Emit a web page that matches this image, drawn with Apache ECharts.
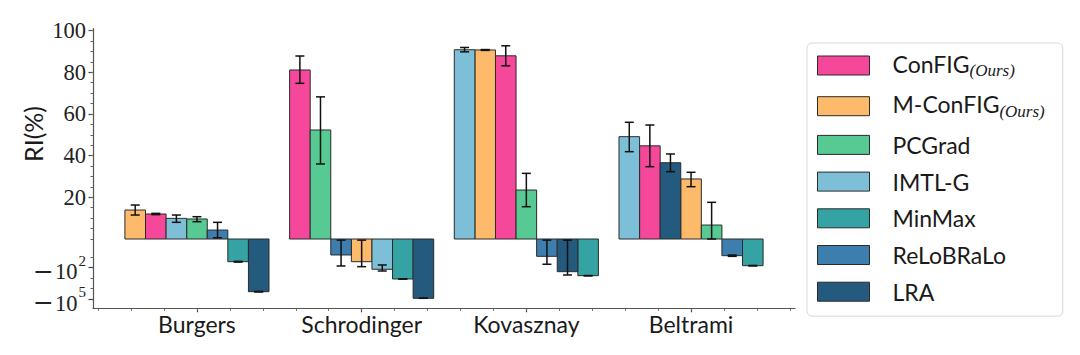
<!DOCTYPE html>
<html>
<head>
<meta charset="utf-8">
<script src="https://cdn.jsdelivr.net/npm/echarts@6/dist/echarts.min.js"></script>
<style>
  html, body { margin: 0; padding: 0; background: #ffffff; }
  #chart { width: 1080px; height: 355px; }
</style>
</head>
<body>
<div id="chart"></div>
<script>
// ---------------- data ----------------
const categories = ['Burgers', 'Schrodinger', 'Kovasznay', 'Beltrami'];
const methods = ['ConFIG', 'M-ConFIG', 'PCGrad', 'IMTL-G', 'MinMax', 'ReLoBRaLo', 'LRA'];

// RI(%) per method, order = categories
const configValues    = [12.0, 81.1, 87.9, 44.7];
const mconfigValues   = [13.9, -26.6, 90.7, 28.8];
const pcgradValues    = [9.6, 52.3, 23.5, 6.7];
const imtlgValues     = [9.9, -143, 90.8, 49.1];
const minmaxValues    = [-26.6, -1222, -589, -64.4];
const relobraloValues = [4.3, -5.9, -8.0, -6.9];
const lraValues       = [-20200, -86900, -243, 36.6];

// error bar lower / upper bounds
const configLow     = [11.7, 74.7, 83.1, 34.7];
const configHigh    = [12.3, 87.8, 92.7, 54.7];
const mconfigLow    = [11.5, -80, 90.5, 25.1];
const mconfigHigh   = [16.3, -0.05, 90.9, 32.0];
const pcgradLow     = [8.3, 36.0, 15.5, 0.0];
const pcgradHigh    = [10.7, 68.2, 31.5, 17.6];
const imtlgLow      = [8.0, -209, 89.8, 41.9];
const imtlgHigh     = [11.5, -55, 91.9, 56.0];
const minmaxLow     = [-29, -1222, -610, -68];
const minmaxHigh    = [-24.5, -1222, -570, -61];
const relobraloLow  = [0.6, -69, -47, -8.0];
const relobraloHigh = [8.0, -0.05, -0.05, -6.0];
const lraLow        = [-21500, -86900, -505, 32.3];
const lraHigh       = [-19000, -86900, -0.05, 40.8];

// tick labels
const yPosTicks = [20, 40, 60, 80, 100];
const yNegTicks = [-100, -100000];
const yNegTickLabels = ['{n|\u2212}{m|10}{e|2}', '{n|\u2212}{m|10}{e|5}'];
const yMinorNeg = [-10, -1000, -10000];

// ---------------- styling ----------------
const colors = {
  'ConFIG': '#F6489B',
  'M-ConFIG': '#FDBA6B',
  'PCGrad': '#56CA92',
  'IMTL-G': '#7DBFD7',
  'MinMax': '#35A3A4',
  'ReLoBRaLo': '#3E7EAE',
  'LRA': '#245A7D'
};

const valueSets = [configValues, mconfigValues, pcgradValues, imtlgValues, minmaxValues, relobraloValues, lraValues];
const lowSets   = [configLow, mconfigLow, pcgradLow, imtlgLow, minmaxLow, relobraloLow, lraLow];
const highSets  = [configHigh, mconfigHigh, pcgradHigh, imtlgHigh, minmaxHigh, relobraloHigh, lraHigh];

// axis transform: linear for positive, logarithmic for negative
function tf(v) {
  return v >= 0 ? v : -5 * Math.log10(1 + 5.62 * (-v));
}

const BW = 0.125;
// rank within each group (descending value)
const ranks = methods.map(() => []);
categories.forEach((c, g) => {
  const order = methods.map((m, i) => i).sort((a, b) => valueSets[b][g] - valueSets[a][g]);
  order.forEach((mi, r) => { ranks[mi][g] = r; });
});

function renderItem(params, api) {
  const x = api.value(0), y = api.value(1), l = api.value(2), h = api.value(3);
  const pA = api.coord([x - BW / 2, 0]);
  const pB = api.coord([x + BW / 2, y]);
  const top = Math.min(pA[1], pB[1]);
  const children = [{
    type: 'rect',
    shape: { x: pA[0], y: top, width: pB[0] - pA[0], height: Math.abs(pB[1] - pA[1]) },
    style: { fill: api.visual('color'), stroke: '#2b2b2b', lineWidth: 1 },
    z2: 1
  }];
  const pl = api.coord([x, l]);
  const ph = api.coord([x, h]);
  const cx = pl[0], cw = 4.5;
  const es = { stroke: '#111', lineWidth: 1.5 };
  children.push({ type: 'line', shape: { x1: cx, y1: pl[1], x2: cx, y2: ph[1] }, style: es, z2: 5 });
  children.push({ type: 'line', shape: { x1: cx - cw, y1: pl[1], x2: cx + cw, y2: pl[1] }, style: es, z2: 5 });
  children.push({ type: 'line', shape: { x1: cx - cw, y1: ph[1], x2: cx + cw, y2: ph[1] }, style: es, z2: 5 });
  return { type: 'group', children };
}

const series = methods.map((m, mi) => ({
  name: m,
  type: 'custom',
  renderItem,
  itemStyle: { color: colors[m], borderColor: '#2b2b2b', borderWidth: 1 },
  data: categories.map((c, g) => [
    g + (ranks[mi][g] - 3) * BW,
    tf(valueSets[mi][g]),
    tf(lowSets[mi][g]),
    tf(highSets[mi][g])
  ])
}));

const xMin = -0.63125, xMax = 3.63125;
const xMinor = [];
for (let k = -3; k <= 18; k++) xMinor.push(+(k * 0.2).toFixed(2));
const yMajor = yNegTicks.map(tf).concat(yPosTicks);
const yMinor = yMinorNeg.map(tf);
for (let k = 0; k <= 100; k += 5) yMinor.push(k);

const yMin = -33.25, yMax = 101;
const serif = 'Liberation Serif';
const sans = 'Lato';

const option = {
  animation: false,
  backgroundColor: '#ffffff',
  grid: { left: 93, top: 28.5, width: 702, height: 279.8, containLabel: false, outerBoundsMode: 'none' },
  xAxis: [{
    type: 'value', min: xMin, max: xMax, position: 'bottom',
    axisLine: { show: true, onZero: false, lineStyle: { color: '#555', width: 1.2 } },
    axisTick: { show: true, customValues: [0, 1, 2, 3], length: 4, lineStyle: { color: '#444', width: 1.2 } },
    axisLabel: {
      customValues: [0, 1, 2, 3], margin: 4,
      formatter: v => categories[Math.round(v)] || '',
      fontFamily: sans, fontSize: 23, color: '#1a1a1a'
    },
    splitLine: { show: false }
  }, {
    type: 'value', min: xMin, max: xMax, position: 'bottom',
    axisLine: { show: false, onZero: false },
    axisTick: { show: true, customValues: xMinor, length: 2.5, lineStyle: { color: '#666', width: 1 } },
    axisLabel: { show: false },
    splitLine: { show: false }
  }],
  yAxis: [{
    type: 'value', min: yMin, max: yMax, position: 'left',
    axisLine: { show: true, onZero: false, lineStyle: { color: '#555', width: 1.2 } },
    axisTick: { show: true, customValues: yMajor, length: 4.5, lineStyle: { color: '#444', width: 1.2 } },
    axisLabel: {
      customValues: yMajor, margin: 7,
      fontFamily: serif, fontSize: 22.5, color: '#222',
      formatter: v => {
        if (v >= 0) return String(Math.round(v));
        const i = yNegTicks.findIndex(t => Math.abs(tf(t) - v) < 1e-6);
        return i >= 0 ? yNegTickLabels[i] : '';
      },
      rich: {
        n: { fontFamily: 'DejaVu Serif', fontSize: 25, color: '#222', verticalAlign: 'top', padding: [7.5, 1, 0, 0] },
        m: { fontFamily: serif, fontSize: 22.5, color: '#222', verticalAlign: 'top', padding: [9, 0, 0, 0] },
        e: { fontFamily: serif, fontSize: 15, color: '#222', verticalAlign: 'top', padding: [2, 0, 0, 1] }
      }
    },
    splitLine: { show: false }
  }, {
    type: 'value', min: yMin, max: yMax, position: 'left',
    axisLine: { show: false, onZero: false },
    axisTick: { show: true, customValues: yMinor, length: 2.5, lineStyle: { color: '#666', width: 1 } },
    axisLabel: { show: false },
    splitLine: { show: false }
  }],
  legend: {
    orient: 'vertical', left: 807, top: 43,
    padding: [9, 18, 13, 10],
    itemWidth: 52, itemHeight: 19, itemGap: 13.7, icon: 'rect',
    borderColor: '#d8d8d8', borderWidth: 1, borderRadius: 5, backgroundColor: '#ffffff',
    itemStyle: { borderColor: '#2b2b2b', borderWidth: 1 },
    data: methods,
    formatter: name => (name === 'ConFIG' || name === 'M-ConFIG') ? '{a|' + name + '}{s|(Ours)}' : '{a|' + name + '}',
    textStyle: {
      padding: [0, 0, 0, 18],
      rich: {
        a: { fontFamily: sans, fontSize: 23, color: '#1a1a1a', verticalAlign: 'top' },
        s: { fontFamily: serif, fontStyle: 'italic', fontSize: 17, color: '#1a1a1a', verticalAlign: 'top', padding: [10, 0, 0, 0] }
      }
    }
  },
  graphic: [{
    type: 'text', x: 33, y: 134, rotation: Math.PI / 2,
    style: { text: 'RI(%)', fontFamily: sans, fontSize: 25, fill: '#1a1a1a', align: 'center', verticalAlign: 'middle' }
  }],
  series
};

const chart = echarts.init(document.getElementById('chart'), null, { renderer: 'svg' });
chart.setOption(option);
</script>
</body>
</html>
